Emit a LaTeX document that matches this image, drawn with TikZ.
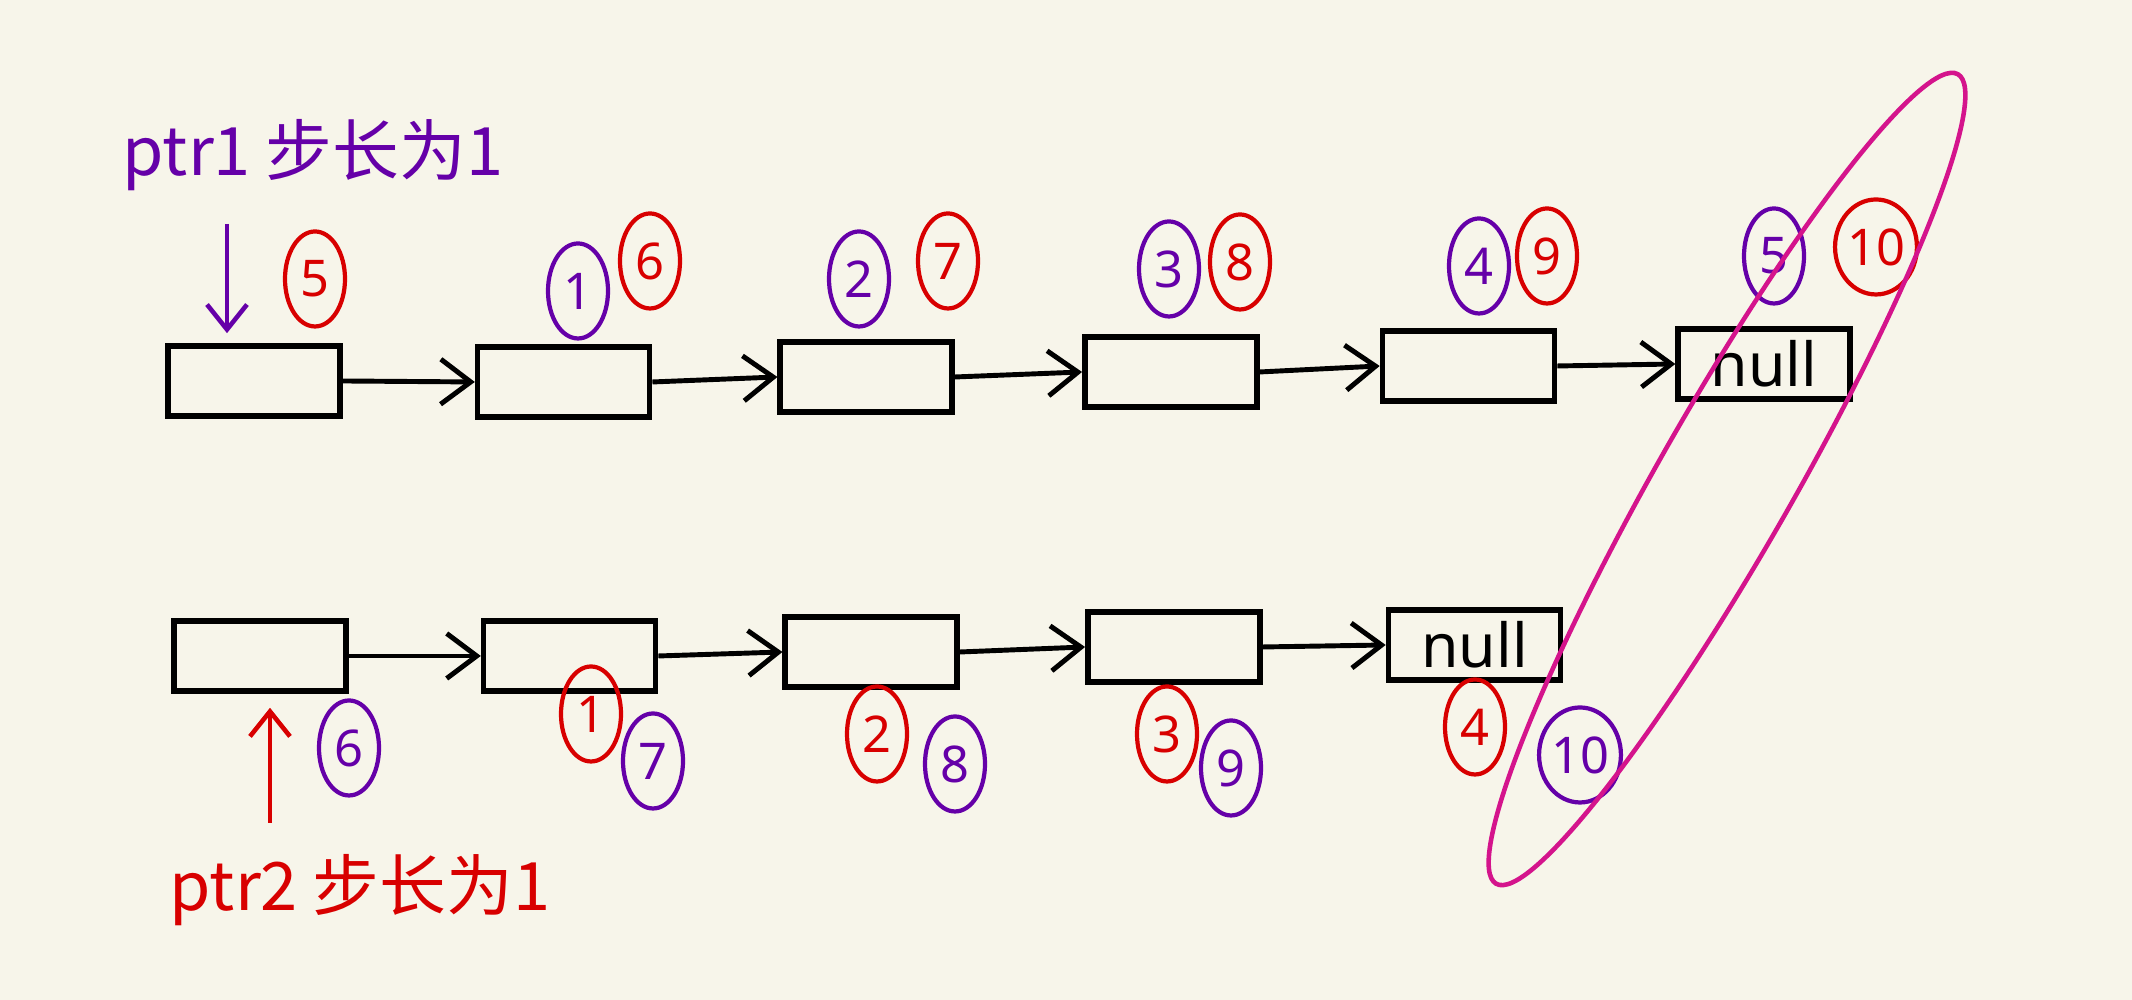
\documentclass[tikz,border=0pt]{standalone}
\usepackage{fontspec}
\setsansfont{Noto Sans}
\newfontfamily\cjk{Noto Sans CJK SC}
\usepackage{tikz}
\usetikzlibrary{arrows.meta, positioning, shapes.geometric}
\definecolor{paper}{HTML}{F7F5EA}
\definecolor{ptr-purple}{HTML}{6500A8}
\definecolor{ptr-red}{HTML}{D80000}
\definecolor{hl-pink}{HTML}{D4148C}

\begin{document}
\begin{tikzpicture}[
    cell/.style={draw, line width=1.6pt, minimum width=1.72cm, minimum height=0.70cm, inner sep=0pt, font=\sffamily\LARGE},
    link/.style={-{Straight Barb[length=3mm,width=4.5mm]}, line width=1.4pt},
    ptr/.style={-{Straight Barb[length=2.5mm,width=4mm]}, line width=1.3pt},
    pnum/.style={draw=ptr-purple, text=ptr-purple, ellipse, line width=1.2pt, minimum width=0.6cm, minimum height=0.95cm, inner sep=0pt, font=\sffamily\Large},
    rnum/.style={pnum, draw=ptr-red, text=ptr-red},
    label/.style={font=\cjk\fontsize{19}{21}\selectfont}
]
    \fill[paper] (0,0) rectangle (21.32,10);
    \useasboundingbox (0,0) rectangle (21.32,10);

    % list 1
    \node (n1) [cell] at (2.54,6.19) {};
    \node (n2) [cell, right=1.32cm of n1, yshift=-0.1mm] {};
    \node (n3) [cell, right=1.25cm of n2, yshift=0.5mm] {};
    \node (n4) [cell, right=1.27cm of n3, yshift=0.5mm] {};
    \node (n5) [cell, right=1.20cm of n4, yshift=0.6mm] {};
    \node (n6) [cell, right=1.18cm of n5, yshift=0.2mm] {null};

    \draw [link] (n1.east) -- (n2.west);
    \draw [link] (n2.east) -- (n3.west);
    \draw [link] (n3.east) -- (n4.west);
    \draw [link] (n4.east) -- (n5.west);
    \draw [link] (n5.east) -- (n6.west);

    % list 2
    \node (m1) [cell] at (2.60,3.44) {};
    \node (m2) [cell, right=1.32cm of m1] {};
    \node (m3) [cell, right=1.24cm of m2, yshift=0.4mm] {};
    \node (m4) [cell, right=1.25cm of m3, yshift=0.5mm] {};
    \node (m5) [cell, right=1.23cm of m4, yshift=0.2mm] {null};

    \draw [link] (m1.east) -- (m2.west);
    \draw [link] (m2.east) -- (m3.west);
    \draw [link] (m3.east) -- (m4.west);
    \draw [link] (m4.east) -- (m5.west);

    % pointers
    \node (t1) [label, text=ptr-purple] at (3.13,8.45) {ptr1 步长为1};
    \node (t2) [label, text=ptr-red] at (3.60,1.10) {ptr2 步长为1};
    \coordinate (p1-tail) at (2.27,7.76);
    \coordinate (p2-tail) at (2.70,1.77);
    \draw [ptr, ptr-purple] (p1-tail) -- ([yshift=1mm]p1-tail |- n1.north);
    \draw [ptr, ptr-red] (p2-tail) -- ([yshift=-1.4mm]p2-tail |- m1.south);

    % step counts, list 1
    \node (r5) [rnum] at (3.15,7.21) {5};
    \node (p1) [pnum] at (5.78,7.09) {1};
    \node (r6) [rnum] at (6.50,7.39) {6};
    \node (p2) [pnum] at (8.59,7.21) {2};
    \node (r7) [rnum] at (9.48,7.39) {7};
    \node (p3) [pnum] at (11.69,7.31) {3};
    \node (r8) [rnum] at (12.40,7.38) {8};
    \node (p4) [pnum] at (14.79,7.34) {4};
    \node (r9) [rnum] at (15.47,7.44) {9};
    \node (p5) [pnum] at (17.74,7.44) {5};
    \node (r10) [rnum] at (18.76,7.53) {10};

    % step counts, list 2
    \node (p6) [pnum] at (3.49,2.52) {6};
    \node (r1) [rnum] at (5.91,2.86) {1};
    \node (p7) [pnum] at (6.53,2.39) {7};
    \node (r2) [rnum] at (8.77,2.66) {2};
    \node (p8) [pnum] at (9.55,2.36) {8};
    \node (r3) [rnum] at (11.67,2.66) {3};
    \node (p9) [pnum] at (12.31,2.32) {9};
    \node (r4) [rnum] at (14.75,2.73) {4};
    \node (p10) [pnum] at (15.80,2.45) {10};

    % meeting point
    \draw [hl-pink, line width=1.3pt, rotate around={60.3:(17.27,5.21)}] (17.27,5.21) ellipse (4.66cm and 0.68cm);
\end{tikzpicture}
\end{document}
